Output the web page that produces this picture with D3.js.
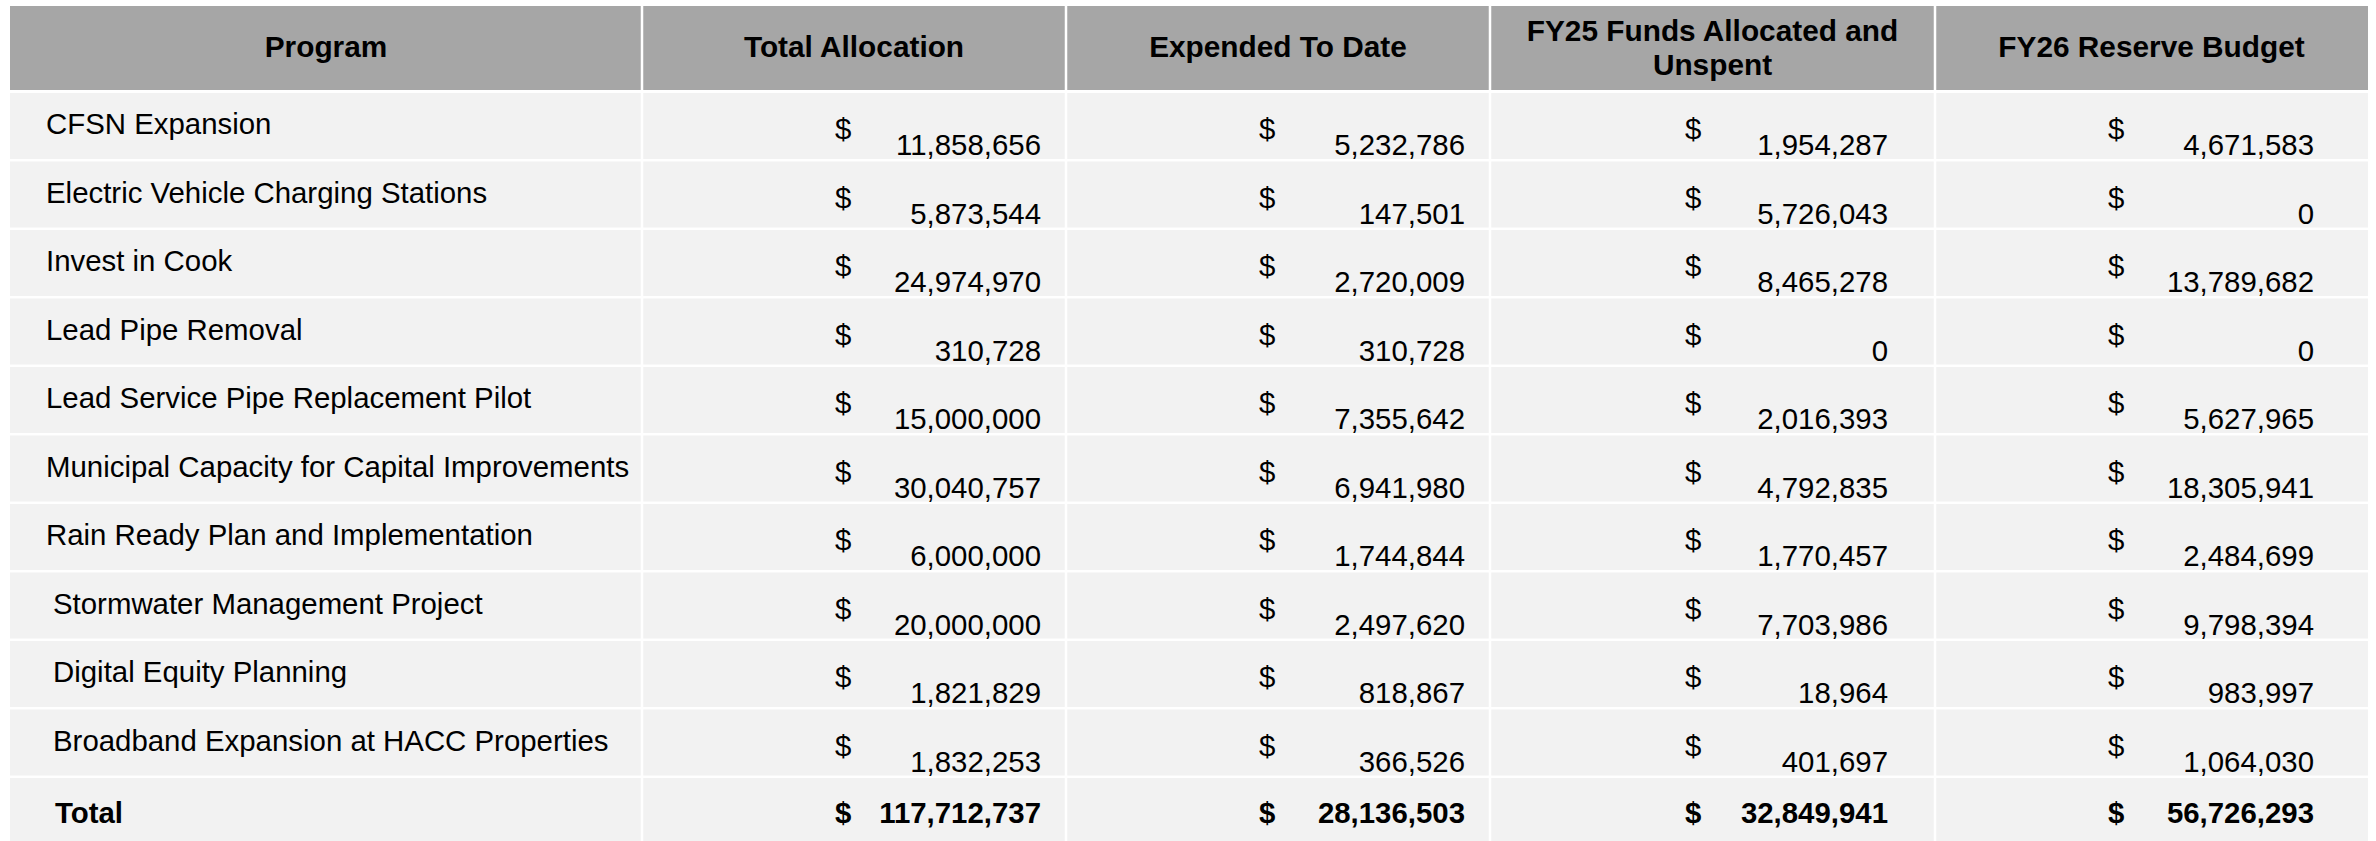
<!DOCTYPE html>
<meta charset="utf-8">
<html>
<head>
<script src="https://d3js.org/d3.v7.min.js"></script>
<style>
  body { margin: 0; background: #fff; }
  text { font-family: "Liberation Sans", Arial, sans-serif; font-size: 29.4px; fill: #000; }
</style>
</head>
<body>
<svg width="2376" height="841"></svg>
<script>

var headers = ["Program", "Total Allocation", "Expended To Date", ["FY25 Funds Allocated and", "Unspent"], "FY26 Reserve Budget"];

var programs = [
  "CFSN Expansion",
  "Electric Vehicle Charging Stations",
  "Invest in Cook",
  "Lead Pipe Removal",
  "Lead Service Pipe Replacement Pilot",
  "Municipal Capacity for Capital Improvements",
  "Rain Ready Plan and Implementation",
  "Stormwater Management Project",
  "Digital Equity Planning",
  "Broadband Expansion at HACC Properties"
];

var totalAllocation = [11858656, 5873544, 24974970, 310728, 15000000, 30040757, 6000000, 20000000, 1821829, 1832253];
var expendedToDate  = [5232786, 147501, 2720009, 310728, 7355642, 6941980, 1744844, 2497620, 818867, 366526];
var fy25Unspent     = [1954287, 5726043, 8465278, 0, 2016393, 4792835, 1770457, 7703986, 18964, 401697];
var fy26Reserve     = [4671583, 0, 13789682, 0, 5627965, 18305941, 2484699, 9798394, 983997, 1064030];

// totals as printed in the source table
var totals = [117712737, 28136503, 32849941, 56726293];

var svg = d3.select("svg");
var fmt = d3.format(",");
var series = [totalAllocation, expendedToDate, fy25Unspent, fy26Reserve];

// column edges (px) and where the "$" and the number sit in each value column
var colEdges = [10, 642, 1066, 1490, 1935, 2368];
var dollarX = [835, 1259, 1685, 2108];
var numRight = [1041, 1465, 1888, 2314];
var gap = 2.5;

var rowKeys = programs.concat(["Total"]);
var y = d3.scaleBand()
    .domain(rowKeys)
    .range([93, 93 + 68.5 * (rowKeys.length - gap / 68.5)])
    .paddingInner(gap / 68.5)
    .paddingOuter(0);

// header cells
var head = svg.append("g");
head.selectAll("rect")
  .data(headers)
  .enter().append("rect")
    .attr("x", function(d, i) { return colEdges[i] + (i ? gap / 2 : 0); })
    .attr("y", 6)
    .attr("width", function(d, i) { return colEdges[i + 1] - colEdges[i] - (i ? gap / 2 : 0) - (i < headers.length - 1 ? gap / 2 : 0); })
    .attr("height", 84)
    .attr("fill", "#a6a6a6");

head.selectAll("text")
  .data(headers)
  .enter().append("text")
    .attr("text-anchor", "middle")
    .attr("font-weight", "bold")
    .style("font-size", "29.8px")
    .attr("x", function(d, i) { return (colEdges[i] + colEdges[i + 1]) / 2; })
    .each(function(d) {
      var t = d3.select(this);
      if (Array.isArray(d)) {
        t.selectAll("tspan").data(d).enter().append("tspan")
          .attr("x", t.attr("x"))
          .attr("y", function(l, j) { return 41 + j * 34; })
          .text(function(l) { return l; });
      } else {
        t.attr("y", 57).text(d);
      }
    });

// body cells
var rows = svg.append("g").selectAll("g")
  .data(rowKeys)
  .enter().append("g")
    .attr("transform", function(d) { return "translate(0," + y(d) + ")"; });

rows.selectAll("rect")
  .data(d3.range(5))
  .enter().append("rect")
    .attr("x", function(i) { return colEdges[i] + (i ? gap / 2 : 0); })
    .attr("width", function(i) { return colEdges[i + 1] - colEdges[i] - (i ? gap / 2 : 0) - (i < 4 ? gap / 2 : 0); })
    .attr("height", y.bandwidth())
    .attr("fill", "#f2f2f2");

var indented = ["Stormwater Management Project", "Digital Equity Planning", "Broadband Expansion at HACC Properties"];

rows.append("text")
    .attr("x", function(d) { return d === "Total" ? 55 : (indented.indexOf(d) >= 0 ? 53 : 46); })
    .attr("y", function(d) { return d === "Total" ? 45 : 41; })
    .attr("font-weight", function(d) { return d === "Total" ? "bold" : null; })
    .text(function(d) { return d; });

rows.each(function(d, r) {
  var g = d3.select(this);
  var isTotal = d === "Total";
  series.forEach(function(s, c) {
    var v = isTotal ? totals[c] : s[r];
    g.append("text")
      .attr("x", dollarX[c])
      .attr("y", isTotal ? 45 : 46)
      .attr("font-weight", isTotal ? "bold" : null)
      .text("$");
    g.append("text")
      .attr("x", numRight[c])
      .attr("y", isTotal ? 45 : 62)
      .attr("text-anchor", "end")
      .attr("font-weight", isTotal ? "bold" : null)
      .text(fmt(v));
  });
});

</script>
</body>
</html>
